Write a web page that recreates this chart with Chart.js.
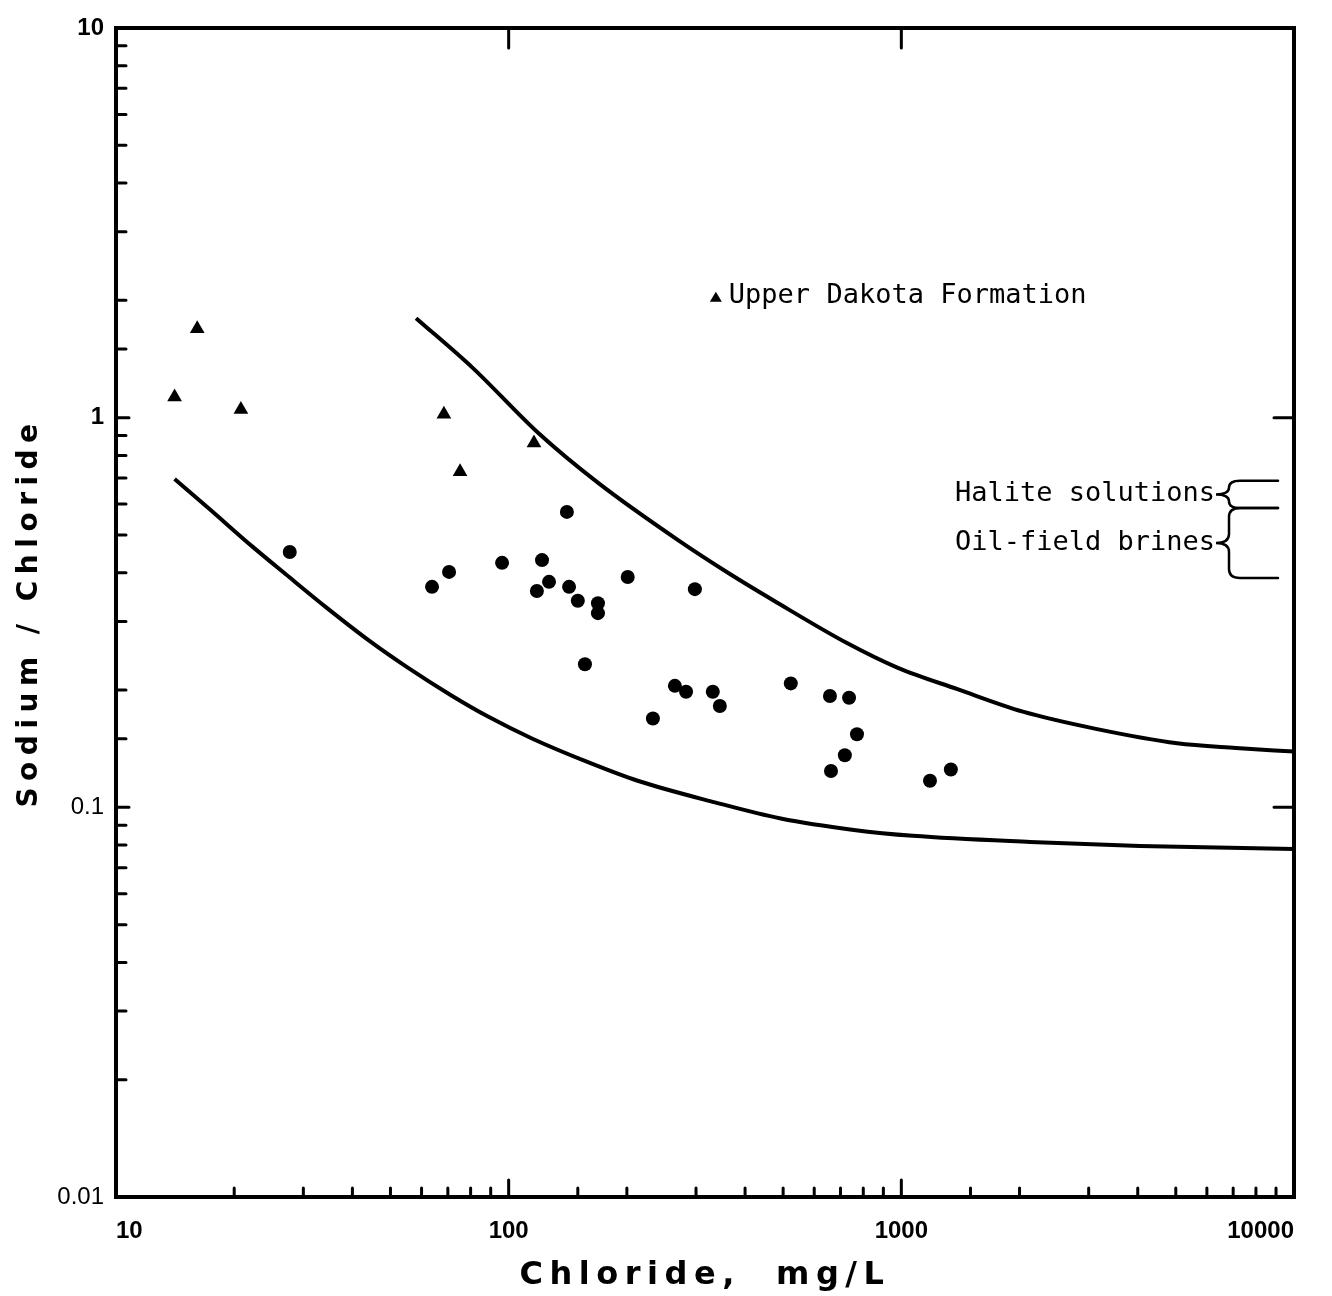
<!DOCTYPE html>
<html>
<head>
<meta charset="utf-8">
<script src="https://cdn.jsdelivr.net/npm/chart.js@4.4.0/dist/chart.umd.min.js"></script>
<style>
  html, body { margin: 0; padding: 0; background: #fff; }
  #wrap { width: 1332px; height: 1296px; }
</style>
</head>
<body>
<div id="wrap"><canvas id="naclChart" width="1332" height="1296"></canvas></div>
<script>
// Sodium / chloride ratio against chloride, log-log, with the two envelope curves

// Upper Dakota Formation (triangles)
const dakotaCl = [14.1, 16.1, 20.8, 68.4, 75.2, 116];
const dakotaRatio = [1.13, 1.69, 1.05, 1.02, 0.726, 0.861];

// other samples (dots)
const sampleCl = [27.7, 63.8, 70.5, 96.2, 118, 121.6, 126.7, 140.7, 142.5, 150, 168.8, 168.8, 156.4, 201,
  298, 233, 265, 283, 331, 345, 523, 658, 736, 771, 718, 662, 1183, 1337];
const sampleRatio = [0.452, 0.368, 0.402, 0.424, 0.359, 0.431, 0.379, 0.573, 0.368, 0.339, 0.334, 0.315, 0.233, 0.390,
  0.363, 0.169, 0.205, 0.198, 0.198, 0.182, 0.208, 0.193, 0.191, 0.154, 0.136, 0.124, 0.117, 0.125];

// envelope curves
const upperCl = [58.1, 81.1, 119, 169, 270, 366, 474, 727, 980, 1390, 2040, 3130, 5040, 7110, 10000];
const upperRatio = [1.80, 1.34, 0.913, 0.680, 0.485, 0.397, 0.339, 0.264, 0.228, 0.201, 0.176, 0.159, 0.146, 0.142, 0.139];
const lowerCl = [14.1, 17.3, 22.3, 27.6, 34.3, 44.3, 55.1, 71.3, 88.6, 115, 161, 213, 335, 493, 757, 1070, 2130, 4050, 10000];
const lowerRatio = [0.696, 0.583, 0.466, 0.390, 0.326, 0.267, 0.229, 0.194, 0.171, 0.150, 0.130, 0.117, 0.103, 0.0936, 0.0875, 0.0845, 0.0815, 0.0796, 0.0782];

// tick labels
const xTickLabels = ['10', '100', '1000', '10000'];
const yTickLabels = ['10', '1', '0.1', '0.01'];

// annotations
const legendLabel = 'Upper Dakota Formation';
const legendAt = [337, 2.03];
const rangeLabels = ['Halite solutions', 'Oil-field brines'];
const rangeLow = [0.586, 0.388];
const rangeHigh = [0.689, 0.586];

const toPoints = (xs, ys) => xs.map((x, i) => ({ x: x, y: ys[i] }));
const isDecade = (v, labels) => labels.includes(String(v));

const monoFont = '"DejaVu Sans Mono", monospace';

// frame, inward ticks, legend text and the range braces
const framePlugin = {
  id: 'frame',
  beforeDraw(chart) {
    // spacing for the axis titles (drawn in the grid layer)
    chart.ctx.letterSpacing = '6.5px';
  },
  beforeDatasetsDraw(chart) {
    chart.ctx.letterSpacing = '0px';
  },
  afterDraw(chart) {
    const ctx = chart.ctx;
    const area = chart.chartArea;
    const xs = chart.scales.x;
    const ys = chart.scales.y;
    ctx.save();
    ctx.letterSpacing = '0px';
    ctx.strokeStyle = '#000';
    ctx.lineCap = 'round';

    ctx.lineWidth = 4;
    ctx.strokeRect(area.left, area.top, area.right - area.left, area.bottom - area.top);

    ctx.lineWidth = 3;
    ctx.beginPath();
    xs.ticks.forEach(t => {
      const px = xs.getPixelForValue(t.value);
      const major = isDecade(t.value, xTickLabels);
      if (px <= area.left + 2 || px >= area.right - 2) return;
      ctx.moveTo(px, area.bottom);
      ctx.lineTo(px, area.bottom - (major ? 17 : 9));
      if (major) {
        ctx.moveTo(px, area.top);
        ctx.lineTo(px, area.top + 20);
      }
    });
    ys.ticks.forEach(t => {
      const py = ys.getPixelForValue(t.value);
      const major = isDecade(t.value, yTickLabels);
      if (py <= area.top + 2 || py >= area.bottom - 2) return;
      ctx.moveTo(area.left, py);
      ctx.lineTo(area.left + (major ? 13 : 10), py);
      if (major) {
        ctx.moveTo(area.right, py);
        ctx.lineTo(area.right - 20, py);
      }
    });
    ctx.stroke();

    // legend
    const lx = xs.getPixelForValue(legendAt[0]);
    const ly = ys.getPixelForValue(legendAt[1]);
    ctx.fillStyle = '#000';
    ctx.beginPath();
    ctx.moveTo(lx, ly - 6);
    ctx.lineTo(lx + 6, ly + 4);
    ctx.lineTo(lx - 6, ly + 4);
    ctx.closePath();
    ctx.fill();
    ctx.font = '27px ' + monoFont;
    ctx.textBaseline = 'middle';
    ctx.textAlign = 'left';
    ctx.fillText(legendLabel, lx + 13, ly - 2);

    // braces on the right
    const xe = area.right - 54;
    const xsp = xe - 11;
    const xt = xe - 24;
    ctx.lineWidth = 2.5;
    ctx.textAlign = 'right';
    rangeLabels.forEach((label, i) => {
      const yTop = ys.getPixelForValue(rangeHigh[i]);
      const yBot = ys.getPixelForValue(rangeLow[i]);
      const mid = (yTop + yBot) / 2;
      const r = Math.min(9, (yBot - yTop) / 4);
      ctx.beginPath();
      ctx.moveTo(area.right - 16, yTop);
      ctx.lineTo(xe, yTop);
      ctx.quadraticCurveTo(xsp, yTop, xsp, yTop + r);
      ctx.lineTo(xsp, mid - r);
      ctx.quadraticCurveTo(xsp, mid, xt, mid);
      ctx.quadraticCurveTo(xsp, mid, xsp, mid + r);
      ctx.lineTo(xsp, yBot - r);
      ctx.quadraticCurveTo(xsp, yBot, xe, yBot);
      ctx.lineTo(area.right - 16, yBot);
      ctx.stroke();
      ctx.fillText(label, xt - 1, mid);
    });
    ctx.restore();
  }
};

const naclChart = new Chart(document.getElementById('naclChart').getContext('2d'), {
  type: 'scatter',
  data: {
    datasets: [
      { label: 'Upper envelope', data: toPoints(upperCl, upperRatio), showLine: true, pointRadius: 0,
        borderColor: '#000', borderWidth: 4, cubicInterpolationMode: 'monotone' },
      { label: 'Lower envelope', data: toPoints(lowerCl, lowerRatio), showLine: true, pointRadius: 0,
        borderColor: '#000', borderWidth: 4, cubicInterpolationMode: 'monotone' },
      { label: 'Upper Dakota Formation', data: toPoints(dakotaCl, dakotaRatio), pointStyle: 'triangle',
        pointRadius: 8.5, backgroundColor: '#000', borderColor: '#000', borderWidth: 0 },
      { label: 'Samples', data: toPoints(sampleCl, sampleRatio), pointStyle: 'circle',
        pointRadius: 7, backgroundColor: '#000', borderColor: '#000', borderWidth: 0 }
    ]
  },
  options: {
    responsive: false,
    animation: false,
    layout: { padding: { left: 0, top: 28, right: 38, bottom: 0 } },
    plugins: { legend: { display: false }, tooltip: { enabled: false } },
    scales: {
      x: {
        type: 'logarithmic',
        min: 10,
        max: 10000,
        afterFit: s => { s.height = 99; s.paddingLeft = 0; s.paddingRight = 0; },
        grid: { display: false },
        border: { display: false },
        ticks: {
          z: 1,
          autoSkip: false,
          maxRotation: 0,
          align: 'inner',
          padding: 12,
          color: '#000',
          font: { family: '"Liberation Sans", sans-serif', size: 24, weight: 'bold' },
          callback: v => isDecade(v, xTickLabels) ? String(v) : ''
        },
        title: {
          display: true,
          text: 'Chloride,  mg/L',
          color: '#000',
          padding: { top: 0, bottom: 1 },
          font: { family: '"DejaVu Sans", sans-serif', size: 32, weight: 'bold' }
        }
      },
      y: {
        type: 'logarithmic',
        min: 0.01,
        max: 10,
        afterFit: s => { s.width = 116; },
        grid: { display: false },
        border: { display: false },
        ticks: {
          z: 1,
          autoSkip: false,
          padding: 4,
          color: '#000',
          font: ctx => ({
            family: '"Liberation Sans", sans-serif',
            size: 24,
            weight: ctx.tick && ctx.tick.value >= 1 ? 'bold' : 'normal'
          }),
          callback: v => isDecade(v, yTickLabels) ? String(v) : ''
        },
        title: {
          display: true,
          text: 'Sodium / Chloride',
          color: '#000',
          padding: { top: 13, bottom: 0 },
          font: { family: '"DejaVu Sans", sans-serif', size: 28, weight: 'bold' }
        }
      }
    }
  },
  plugins: [framePlugin]
});
</script>
</body>
</html>
